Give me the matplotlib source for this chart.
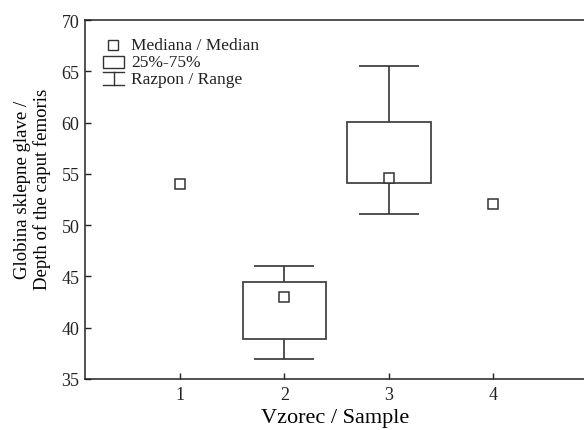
import matplotlib
matplotlib.use("Agg")
import matplotlib.pyplot as plt
from matplotlib.patches import Rectangle
from matplotlib.lines import Line2D

plt.rcParams['font.family'] = ['Liberation Serif', 'DejaVu Serif']

# podatki / data
vzorci = [1, 2, 3, 4]
mediane = [54.0, 43.0, 54.6, 52.1]
# 25%-75% in razpon samo za vzorca 2 in 3
box_x = [2, 3]
q25 = [38.9, 54.15]
q75 = [44.5, 60.1]
razpon_min = [36.95, 51.05]
razpon_max = [46.05, 65.55]

barva = '#333333'

fig = plt.figure(figsize=(5.84, 4.31), dpi=100)
ax = fig.add_axes([85 / 584, 51 / 431, 501 / 584, 359 / 431])

box_w = 0.8
cap_w = 0.575

# boxi
ax.bar(box_x, [b - a for a, b in zip(q25, q75)], bottom=q25, width=box_w,
       facecolor='white', edgecolor='#444444', linewidth=1.3, zorder=2)
# razpon
for x, lo, hi, a, b in zip(box_x, razpon_min, razpon_max, q25, q75):
    ax.vlines(x, lo, a, color=barva, lw=1.2, zorder=1)
    ax.vlines(x, b, hi, color=barva, lw=1.2, zorder=1)
    ax.hlines([lo, hi], x - cap_w / 2, x + cap_w / 2, color=barva, lw=1.2, zorder=1)
# mediane
ax.plot(vzorci, mediane, linestyle='none', marker='s', markersize=7.5,
        markerfacecolor='white', markeredgecolor=barva, markeredgewidth=1.1, zorder=3)

ax.set_xlim(0.089, 4.89)
ax.set_ylim(35, 70)
ax.set_xticks(vzorci)
ax.set_yticks(range(35, 71, 5))
ax.tick_params(direction='in', length=4, width=1, labelsize=13, colors='#222222')
ax.tick_params(axis='x', pad=5)
ax.tick_params(axis='y', pad=4)
for s in ax.spines.values():
    s.set_linewidth(1.1)
    s.set_color('#222222')
ax.spines['right'].set_visible(False)

ax.set_xlabel('Vzorec / Sample', fontsize=16, labelpad=4)
ax.set_ylabel('Globina sklepne glave /\nDepth of the caput femoris', fontsize=13.5,
              linespacing=1.15)
ax.yaxis.set_label_coords(-0.068, 0.53)

# legenda
tr = ax.transAxes
def px(x, y):
    return ((x - 85) / 501, (380 - y) / 359)

x0, y0 = px(113, 46)
ax.plot([x0], [y0], transform=tr, marker='s', markersize=7, markerfacecolor='white',
        markeredgecolor=barva, markeredgewidth=1.0, clip_on=False)
rx, ry = px(103, 69)
rw = 21 / 501
rh = 12 / 359
ax.add_patch(Rectangle((rx, ry), rw, rh, transform=tr, fill=False,
                       edgecolor=barva, lw=1.0))
lx0, ly_top = px(103, 73)
lx1, ly_bot = px(124, 86)
lxm = (lx0 + lx1) / 2
ax.add_line(Line2D([lx0, lx1], [ly_top, ly_top], transform=tr, color=barva, lw=1.0))
ax.add_line(Line2D([lx0, lx1], [ly_bot, ly_bot], transform=tr, color=barva, lw=1.0))
ax.add_line(Line2D([lxm, lxm], [ly_bot, ly_top], transform=tr, color=barva, lw=1.0))

for txt, yy in [('Mediana / Median', 46), ('25%-75%', 63), ('Razpon / Range', 80)]:
    tx, ty = px(131, yy)
    ax.text(tx, ty, txt, transform=tr, fontsize=12.5, va='center', ha='left',
            color='#222222')

fig.savefig('out.png', dpi=100)
